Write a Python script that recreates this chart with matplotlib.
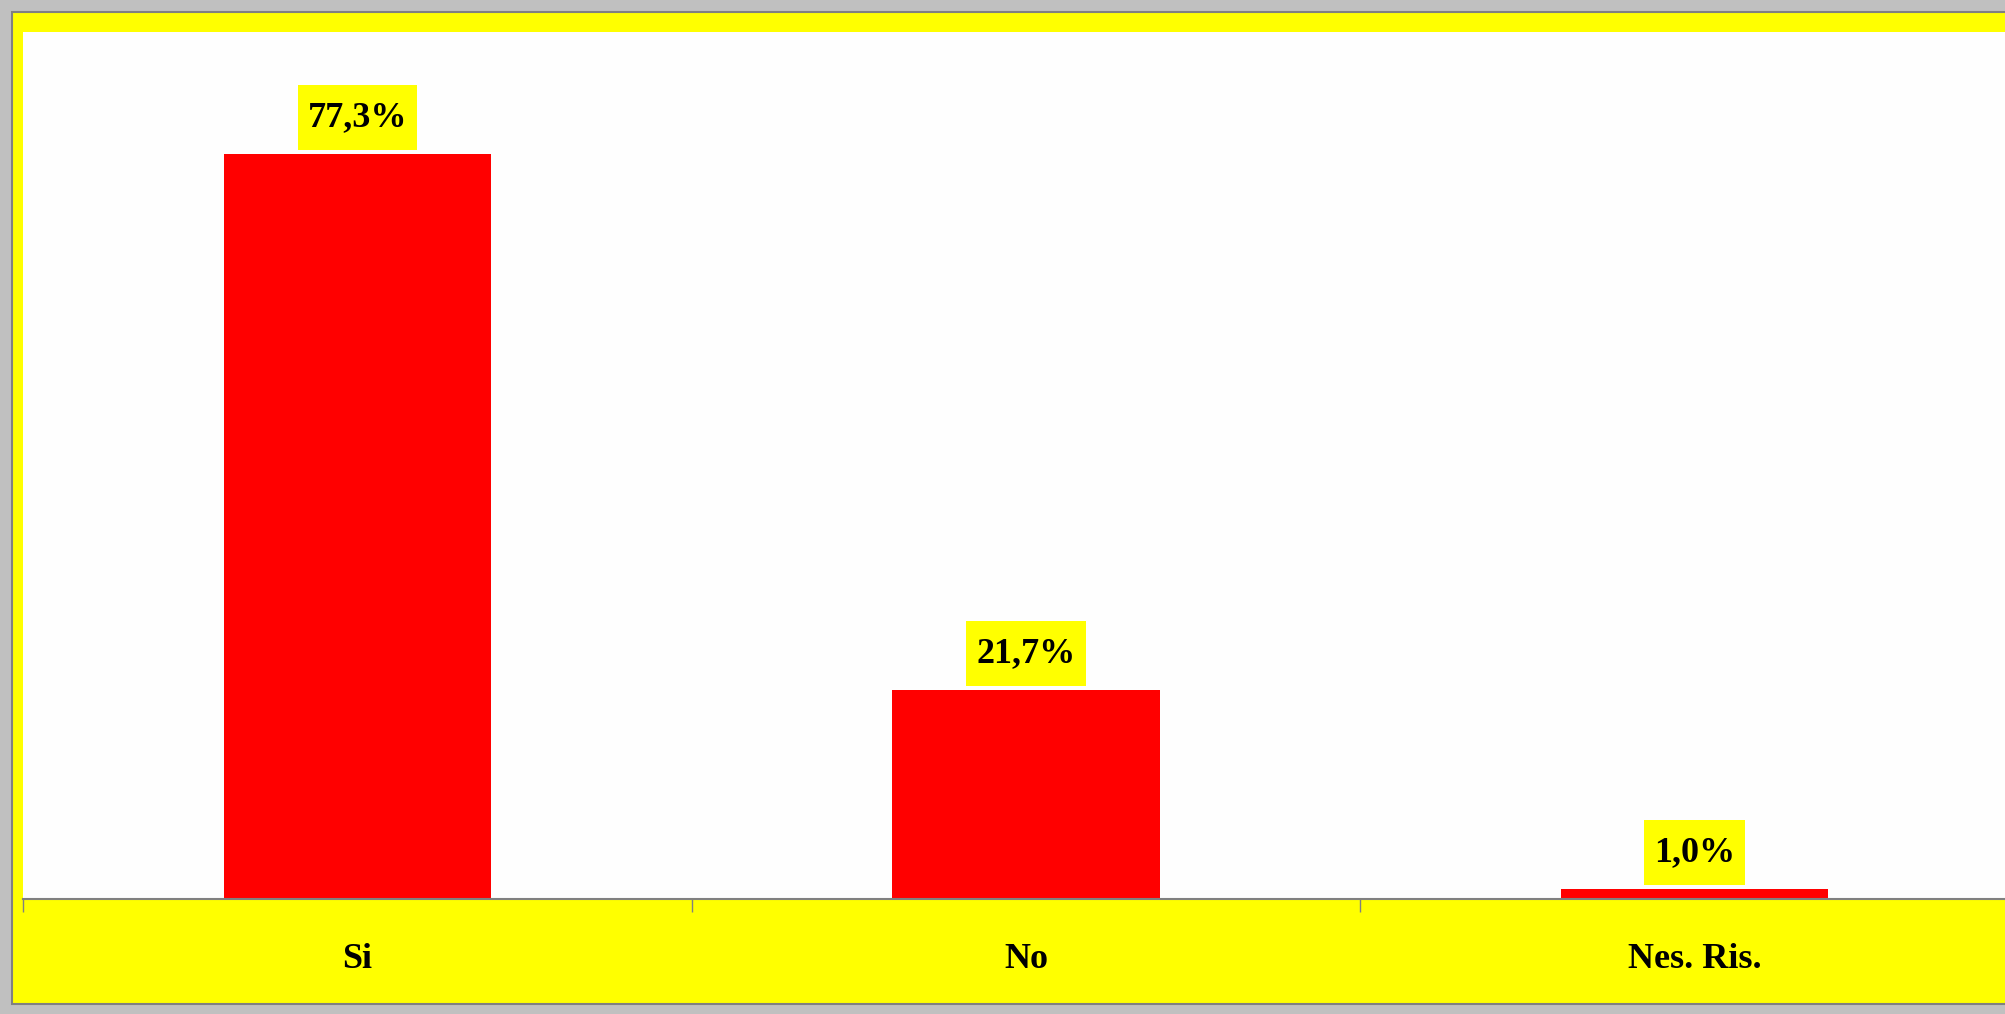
import matplotlib.pyplot as plt
from matplotlib.patches import Rectangle
from matplotlib.transforms import IdentityTransform

categories = ["Si", "No", "Nes. Ris."]
values = [77.3, 21.7, 1.0]
value_labels = ["77,3%", "21,7%", "1,0%"]

W, H = 2006, 1014
fig = plt.figure(figsize=(W / 100, H / 100), dpi=100, facecolor="#c0c0c0")

# yellow chart frame, behind the axes
frame = Rectangle((12 / W, 1 - 1004 / H), 1.1, (1004 - 12) / H,
                  transform=fig.transFigure, facecolor="#ffff00",
                  edgecolor="#808080", linewidth=1.5, zorder=-10)
fig.add_artist(frame)

# plot area (runs off the right edge like the original)
left, right, top, bottom = 23, 2029, 32, 899
ax = fig.add_axes([left / W, 1 - bottom / H, (right - left) / W, (bottom - top) / H])
ax.set_zorder(1)
ax.set_facecolor("#fefefe")

x = range(len(categories))
ax.bar(x, values, width=0.4, color="#ff0000", zorder=2)
ax.set_xlim(-0.5, 2.5)
ax.set_ylim(0, 90)

texts = []
for xi, v, lab in zip(x, values, value_labels):
    t = ax.annotate(lab, (xi, v), xytext=(0, 26.5), textcoords="offset points",
                    ha="center", va="center", fontsize=26, fontweight="bold",
                    family="Liberation Serif", color="black", zorder=5)
    texts.append((t, xi, v))

for s in ["top", "right", "left"]:
    ax.spines[s].set_visible(False)
ax.spines["bottom"].set_color("#808080")
ax.spines["bottom"].set_linewidth(1.5)
ax.set_yticks([])

ax.set_xticks(list(x))
ax.set_xticklabels(categories, fontsize=26, fontweight="bold", family="Liberation Serif")
ax.tick_params(axis="x", which="major", length=0, pad=32)
ax.set_xticks([-0.5, 0.5, 1.5, 2.5], minor=True)
ax.tick_params(axis="x", which="minor", length=9, width=1, color="#808080")

# yellow label boxes: taller than the text, just above each bar
fig.canvas.draw()
renderer = fig.canvas.get_renderer()
for t, xi, v in texts:
    bb = t.get_window_extent(renderer)
    bar_top = ax.transData.transform((xi, v))[1]
    box = Rectangle((bb.x0 - 10, bar_top + 4), bb.width + 20, 65,
                    transform=IdentityTransform(), facecolor="#ffff00",
                    edgecolor="none", zorder=4)
    ax.add_artist(box)

fig.savefig("out.png", dpi=100, facecolor=fig.get_facecolor())
